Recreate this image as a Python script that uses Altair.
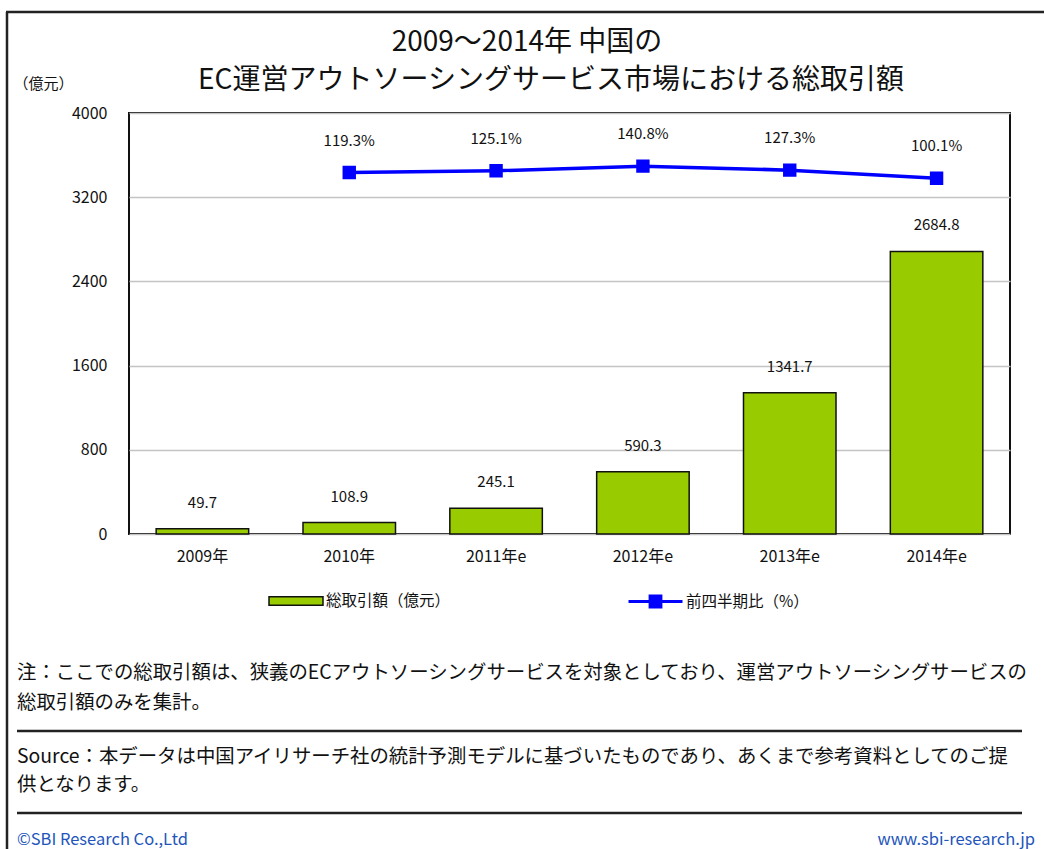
import altair as alt
import pandas as pd

# ---- data ----
years = ["2009年", "2010年", "2011年e", "2012年e", "2013年e", "2014年e"]
volumes = [49.7, 108.9, 245.1, 590.3, 1341.7, 2684.8]
growth_years = ["2010年", "2011年e", "2012年e", "2013年e", "2014年e"]
growth = [119.3, 125.1, 140.8, 127.3, 100.1]
y_ticks = [0, 800, 1600, 2400, 3200, 4000]

title_lines = ["2009～2014年 中国の", "EC運営アウトソーシングサービス市場における総取引額"]
y_unit = "（億元）"
bar_series = "総取引額（億元）"
line_series = "前四半期比（%）"
note_lines = [
    "注：ここでの総取引額は、狭義のECアウトソーシングサービスを対象としており、運営アウトソーシングサービスの",
    "総取引額のみを集計。",
]
source_lines = [
    "Source：本データは中国アイリサーチ社の統計予測モデルに基づいたものであり、あくまで参考資料としてのご提",
    "供となります。",
]
footer_left = "©SBI Research Co.,Ltd"
footer_right = "www.sbi-research.jp"

FONT = "Noto Sans CJK JP"
W, H = 881, 421

bars_df = pd.DataFrame({"year": years, "value": volumes, "series": [bar_series] * len(years)})
line_df = pd.DataFrame({
    "year": growth_years,
    "pct": growth,
    "label": [f"{v:.1f}%" for v in growth],
    "series": [line_series] * len(growth),
})

xscale = alt.Scale(domain=years, paddingInner=0.37, paddingOuter=0.185)
yscale = alt.Scale(domain=[0, 4000], nice=False, zero=True)
y2scale = alt.Scale(domain=[-1100, 320], nice=False, zero=False)

x_enc = alt.X("year:N", scale=xscale, sort=years,
              axis=alt.Axis(title=None, labelAngle=0, ticks=False, domain=False,
                            labelPadding=14, labelFontSize=16, labelFont=FONT,
                            labelColor="#111"))

bars = alt.Chart(bars_df).mark_bar(stroke="#111", strokeWidth=1.5).encode(
    x=x_enc,
    y=alt.Y("value:Q", scale=yscale,
            axis=alt.Axis(values=y_ticks, format="d", title=y_unit, titleAngle=0,
                          titleX=-116, titleY=-30,
                          titleAlign="left", titleBaseline="middle", titleFontSize=15,
                          titleFontWeight="normal", titleFont=FONT, titleColor="#111",
                          labelFontSize=16, labelFont=FONT, labelColor="#111",
                          labelPadding=22, ticks=False, domain=False,
                          grid=True, gridColor="#C4C4C4", gridWidth=1.5)),
    fill=alt.Fill("series:N", scale=alt.Scale(domain=[bar_series], range=["#99CC00"]),
                  legend=alt.Legend(title=None, orient="none", legendX=139, legendY=460,
                                    symbolType="M-1,-0.16H1V0.16H-1Z", symbolSize=2916,
                                    symbolStrokeColor="#111", symbolStrokeWidth=1.5,
                                    symbolFillColor="#99CC00",
                                    labelFontSize=15.5, labelFont=FONT, labelColor="#111",
                                    labelOffset=2, padding=0)),
)

bar_text = alt.Chart(bars_df).mark_text(baseline="middle", dy=-26, fontSize=15, font=FONT,
                                        color="#111").encode(
    x=alt.X("year:N", scale=xscale, sort=years),
    y=alt.Y("value:Q", scale=yscale, axis=None),
    text=alt.Text("value:Q", format=".1f"),
)

line = alt.Chart(line_df).mark_line(
    strokeWidth=3.5,
    point=alt.OverlayMarkDef(shape="square", size=130, filled=True, color="#0000FF"),
).encode(
    x=alt.X("year:N", scale=xscale, sort=years),
    y=alt.Y("pct:Q", scale=y2scale, axis=None),
    stroke=alt.Stroke("series:N", scale=alt.Scale(domain=[line_series], range=["#0000FF"]),
                      legend=alt.Legend(title=None, orient="none", legendX=498, legendY=460,
                                        symbolType="M-1,0H1M-0.2,-0.2H0.2V0.2H-0.2Z",
                                        symbolSize=2916, symbolStrokeColor="#0000FF",
                                        symbolFillColor="#0000FF", symbolStrokeWidth=3,
                                        labelFontSize=15.5, labelFont=FONT, labelColor="#111",
                                        labelOffset=2, padding=0)),
)

line_text = alt.Chart(line_df).mark_text(baseline="middle", dy=-32, fontSize=15, font=FONT,
                                         color="#111").encode(
    x=alt.X("year:N", scale=xscale, sort=years),
    y=alt.Y("pct:Q", scale=y2scale, axis=None),
    text="label:N",
)


def label(text, x, y, size, align="left", color="#111", weight="normal"):
    return alt.Chart(pd.DataFrame({"t": [text]})).mark_text(
        align=align, baseline="middle", fontSize=size, font=FONT, color=color, fontWeight=weight
    ).encode(x=alt.value(x), y=alt.value(y), text="t:N")


def hrule(x1, x2, y, color="#222", width=2.5):
    return alt.Chart(pd.DataFrame({"a": [0]})).mark_rule(color=color, strokeWidth=width).encode(
        x=alt.value(x1), x2=alt.value(x2), y=alt.value(y))


def vrule(x, y1, y2, color="#222", width=2.5):
    return alt.Chart(pd.DataFrame({"a": [0]})).mark_rule(color=color, strokeWidth=width).encode(
        x=alt.value(x), y=alt.value(y1), y2=alt.value(y2))


annotations = [
    label(title_lines[0], 398, -70, 28, align="center"),
    label(title_lines[1], 422, -32, 28, align="center"),
    label(note_lines[0], -112, 560, 19.4),
    label(note_lines[1], -112, 590, 19.4),
    hrule(-112, 893, 618),
    label(source_lines[0], -112, 644, 19.4),
    label(source_lines[1], -112, 672, 19.4),
    hrule(-112, 893, 700),
    label(footer_left, -112, 727, 16.5, color="#2255BB"),
    label(footer_right, 906, 727, 16.5, align="right", color="#2255BB"),
    hrule(-123, 915, -101),
    vrule(-122, -101, 736),
]

chart = alt.layer(bars, bar_text, line, line_text, *annotations).resolve_scale(
    y="independent"
).properties(
    width=W, height=H,
    autosize=alt.AutoSizeParams(type="none"),
    padding={"left": 129, "top": 113, "right": 34, "bottom": 315},
    background="white",
).configure_view(stroke="#111", strokeWidth=2)

chart.save("out.html", embed_options={"renderer": "svg", "actions": False})
